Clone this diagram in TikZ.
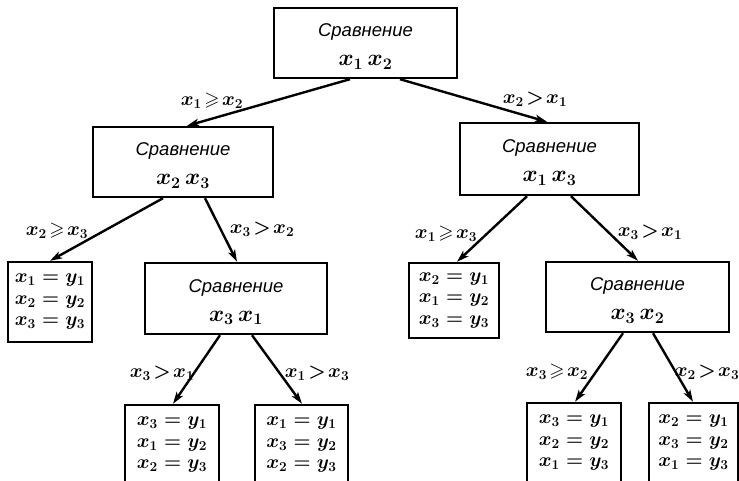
\RequirePackage{fix-cm}
\documentclass[tikz,border=0pt]{standalone}
\usepackage{amsmath,amssymb}
\usepackage{fontspec}
\setmainfont{Liberation Sans}
\usetikzlibrary{arrows.meta}

% comparison box: caption plus the pair being compared
\newcommand{\cmpbox}[2]{\rule{0pt}{20pt}\itshape Сравнение\\{\fontsize{23}{29}\selectfont$x_{#1}\,x_{#2}$}}
% leaf box: the resulting order y1, y2, y3
\newcommand{\ordbox}[3]{$x_{#1}=y_1$\\$x_{#2}=y_2$\\$x_{#3}=y_3$}
% relation with narrow spacing, as in the branch conditions
\newcommand{\nrel}[1]{\mskip2mu\mathord{#1}\mskip2mu}

\tikzset{
  box/.style={draw, line width=2.4pt, rectangle, inner sep=0pt, align=center, text=black},
  cmp/.style={box, minimum width=182pt, minimum height=71pt,
    font=\fontsize{18.5}{29}\selectfont\boldmath},
  leaf/.style={box, minimum height=80pt, font=\fontsize{19.5}{21.5}\selectfont\boldmath},
  edge/.style={line width=2.4pt, -{Stealth[length=12pt,width=7.5pt,inset=3pt]}},
  lab/.style={font=\fontsize{19.5}{21}\selectfont\boldmath, inner sep=0pt}
}

\begin{document}
\begin{tikzpicture}[x=1pt, y=-1pt]
\useasboundingbox (0,0) rectangle (739,480);
\clip (0,0) rectangle (739,480);

% decision nodes
\node[cmp, minimum width=183pt, minimum height=70pt] (root) at (365.5,43) {\cmpbox{1}{2}};
\node[cmp, minimum width=180pt, minimum height=70pt] (L) at (183,162) {\cmpbox{2}{3}};
\node[cmp, minimum width=179pt, minimum height=72pt] (R) at (549.5,159) {\cmpbox{1}{3}};
\node[cmp] (C31) at (236,298.5) {\cmpbox{3}{1}};
\node[cmp, minimum width=183pt, minimum height=70pt] (C32) at (637.5,297) {\cmpbox{3}{2}};

% outcome nodes
\node[leaf, minimum width=84pt] (leafA) at (50,302) {\ordbox{1}{2}{3}};
\node[leaf, minimum width=90pt, minimum height=75pt] (leafB) at (454,300.5) {\ordbox{2}{1}{3}};
\node[leaf, minimum width=94pt] (leafC) at (172,445) {\ordbox{3}{1}{2}};
\node[leaf, minimum width=93pt] (leafD) at (301.5,445) {\ordbox{1}{3}{2}};
\node[leaf, minimum width=94pt] (leafE) at (574,443) {\ordbox{3}{2}{1}};
\node[leaf, minimum width=89pt] (leafF) at (693.5,443) {\ordbox{2}{3}{1}};

% branches
\draw[edge] ([xshift=-15.5pt]root.south) -- ([xshift=4pt]L.north);
\draw[edge] ([xshift=34.5pt]root.south) -- ([xshift=-2.5pt]R.north);
\draw[edge] ([xshift=-20pt]L.south) -- ([xshift=0pt]leafA.north);
\draw[edge] ([xshift=22pt]L.south) -- ([xshift=1pt]C31.north);
\draw[edge] ([xshift=-22.5pt]R.south) -- ([xshift=3pt]leafB.north);
\draw[edge] ([xshift=21.5pt]R.south) -- ([xshift=0.5pt]C32.north);
\draw[edge] ([xshift=-16pt]C31.south) -- ([xshift=1pt]leafC.north);
\draw[edge] ([xshift=16pt]C31.south) -- ([xshift=0.5pt]leafD.north);
\draw[edge] ([xshift=-14.5pt]C32.south) -- ([xshift=1pt]leafE.north);
\draw[edge] ([xshift=15.5pt]C32.south) -- ([xshift=-0.5pt]leafF.north);

% branch conditions
\node[lab] (c1) at (212,101) {$x_1\nrel{\geqslant}x_2$};
\node[lab] (c2) at (535,99) {$x_2\nrel{>}x_1$};
\node[lab] (c3) at (57,231) {$x_2\nrel{\geqslant}x_3$};
\node[lab] (c4) at (262,229) {$x_3\nrel{>}x_2$};
\node[lab] (c5) at (446,234) {$x_1\nrel{\geqslant}x_3$};
\node[lab] (c6) at (650,232) {$x_3\nrel{>}x_1$};
\node[lab] (c7) at (162,373) {$x_3\nrel{>}x_1$};
\node[lab] (c8) at (317,373) {$x_1\nrel{>}x_3$};
\node[lab] (c9) at (557,372) {$x_3\nrel{\geqslant}x_2$};
\node[lab] (c10) at (707,372) {$x_2\nrel{>}x_3$};
\end{tikzpicture}
\end{document}
